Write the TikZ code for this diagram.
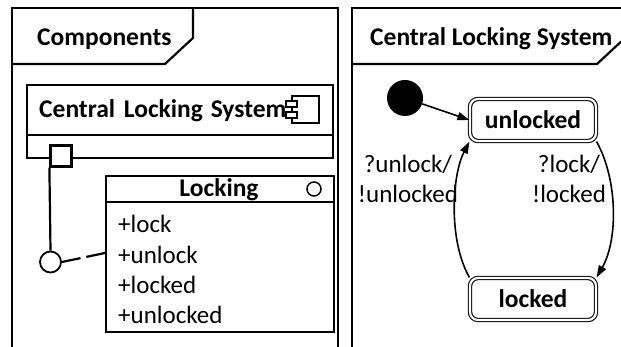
\documentclass[tikz,border=0pt]{standalone}
\usepackage{fontspec}
\setmainfont{Carlito}
\usetikzlibrary{positioning,calc,arrows.meta}

\tikzset{
  frm/.style={line width=2.2pt},
  box/.style={draw, line width=2.2pt, inner sep=0pt},
  lbl/.style={font=\fontsize{25}{30}\selectfont, inner sep=0pt},
  title/.style={font=\bfseries\fontsize{25.5}{30}\selectfont, inner sep=0pt, anchor=base west},
  state/.style={draw, double, line width=1.1pt, double distance=2.2pt, rounded corners=8pt,
    minimum width=126pt, minimum height=42pt, font=\bfseries\fontsize{25.5}{30}\selectfont},
  trans/.style={line width=1.6pt, -{Triangle[length=12pt,width=8pt]}},
}

\begin{document}
\begin{tikzpicture}[x=1pt,y=-1pt]
  \useasboundingbox (0,0) rectangle (621,347);
  % components frame
  \draw[frm] (12,347) -- (12,8) -- (338,8) -- (338,347);
  \draw[frm] (12,64) -- (165,64) -- (193,38) -- (193,8);
  \node[title] (comptitle) at (37,46) {Components};

  \node[box, minimum width=306pt, minimum height=73pt, anchor=north west] (cls) at (26,84) {};
  \draw[frm] (cls.west |- 0,135) -- (cls.east |- 0,135);
  \node[title] (clsname) at (39,118) {Central\hspace{3pt} Locking\hspace{2pt} System};
  \draw[line width=1.4pt, fill=white] (292,96) rectangle (319,123);
  \draw[line width=1.4pt, fill=white] (286,101) rectangle (297,107);
  \draw[line width=1.4pt, fill=white] (286,112) rectangle (297,118);

  \node[box, fill=white, minimum size=21pt] (port) at (61,156) {};
  \node[circle, box, line width=1.8pt, minimum size=21pt] (iface) at (50.5,262) {};
  \draw[frm] (port.south west) -- (iface.north);

  \node[box, minimum width=228pt, minimum height=156pt, anchor=north west] (lockbox) at (105,175) {};
  \draw[frm] (lockbox.west |- 0,202) -- (lockbox.east |- 0,202);
  \node[title, anchor=base] (lockname) at (219,197) {Locking};
  \draw[line width=1.5pt] (314,189) circle (7);
  \foreach \a [count=\i] in {lock,unlock,locked,unlocked}
    \node[lbl, anchor=base west] (attr\i) at (118,{233+30.3*(\i-1)}) {+\a};

  \coordinate (lockin) at (105,253);
  \draw[frm, dash pattern=on 19pt off 6pt] (iface.east) -- (lockin);

  % state machine frame
  \draw[frm] (621,8) -- (352,8) -- (352,347);
  \draw[frm] (352,64) -- (597,64) -- (621,41.7);
  \node[title] (smtitle) at (370,46) {Central Locking System};

  \node[circle, fill, minimum size=36pt, inner sep=0pt] (init) at (405,98) {};
  \node[state] (unl) at (533,120) {unlocked};
  \node[state] (lkd) at (533,299) {locked};

  \draw[trans] (init) -- (unl.west);
  \draw[trans] (unl.south east) .. controls (618,180) and (618,240) .. (lkd.north east);
  \draw[trans] (lkd.north west) .. controls (448,240) and (452,175) .. (unl.south west);

  \node[lbl, align=center, anchor=base] (ulbl) at (408,203) {?unlock/\\!unlocked};
  \node[lbl, align=center, anchor=base] (llbl) at (569,203) {?lock/\\!locked};
\end{tikzpicture}
\end{document}
